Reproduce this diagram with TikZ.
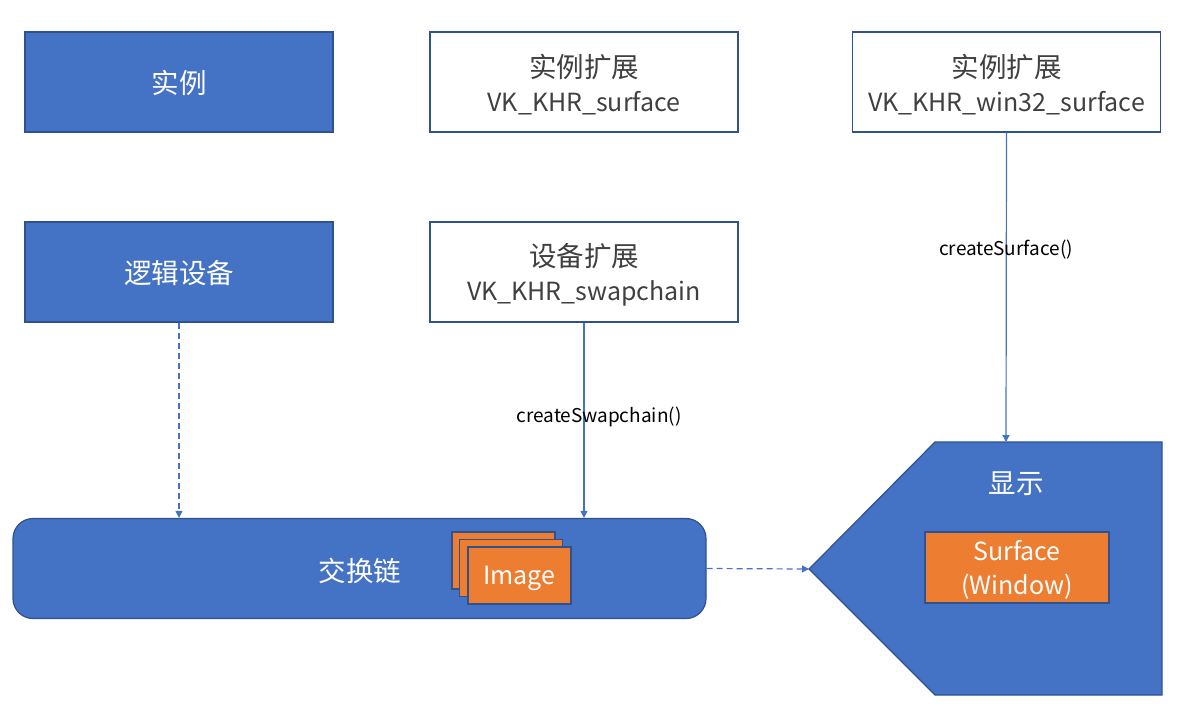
\documentclass[tikz,border=0pt]{standalone}
\usepackage{fontspec}
\setmainfont{Noto Sans CJK SC}
\usetikzlibrary{arrows.meta}
\definecolor{blueF}{HTML}{4472C4}
\definecolor{blueD}{HTML}{2F528F}
\definecolor{orangeF}{HTML}{ED7D31}
\definecolor{txtG}{HTML}{404040}
\newcommand\cjkbig[1]{{\fontsize{27.5}{34}\selectfont #1}}
\begin{document}
\begin{tikzpicture}[x=1pt,y=-1pt,
  bigfont/.style={font=\fontsize{25}{34}\selectfont},
  bluebox/.style={draw=blueD, line width=1.2pt, fill=blueF, minimum width=308pt, minimum height=100pt, inner sep=0pt},
  whitebox/.style={draw=blueD, line width=1.2pt, fill=white, minimum width=308pt, minimum height=100pt, inner sep=0pt},
  wtext/.style={bigfont, text=white, align=center, inner sep=0pt},
  gtext/.style={bigfont, text=txtG, align=center, inner sep=0pt},
  orangebox/.style={draw=blueD, line width=1.2pt, fill=orangeF, inner sep=0pt},
  conn/.style={draw=blueF, line width=1.2pt, -{Triangle[width=7pt,length=7pt]}},
  dashconn/.style={conn, dash pattern=on 6pt off 4pt},
  lbl/.style={font=\fontsize{19}{22}\selectfont, text=black, inner sep=0pt}
]
\useasboundingbox (0,0) rectangle (1189,726);
\fill[white] (0,0) rectangle (1189,726);

% top row
\node[bluebox] (inst) at (179,82) {};
\node[wtext] (inst-t) at (179,83) {\cjkbig{实例}};
\node[whitebox] (instext) at (584,82) {};
\node[gtext] (instext-t) at (584,85) {\cjkbig{实例扩展}\\VK\_KHR\_surface};
\node[whitebox] (winext) at (1006.5,82) {};
\node[gtext] (winext-t) at (1006.5,85) {\cjkbig{实例扩展}\\VK\_KHR\_win32\_surface};

% second row
\node[bluebox] (dev) at (179,272) {};
\node[wtext] (dev-t) at (179,273) {\cjkbig{逻辑设备}};
\node[whitebox] (devext) at (584,272) {};
\node[gtext] (devext-t) at (584,275) {\cjkbig{设备扩展}\\VK\_KHR\_swapchain};

% swapchain
\node[draw=blueD, line width=1.2pt, fill=blueF, rounded corners=20pt, minimum width=693pt, minimum height=100pt, inner sep=0pt] (swap) at (359.5,568.5) {};
\node[wtext] (swaplbl) at (360,571) {\cjkbig{交换链}};
\node[orangebox, minimum width=103pt, minimum height=57pt] (img3) at (503.5,560.5) {};
\node[orangebox, minimum width=103pt, minimum height=57pt] (img2) at (511,568) {};
\node[orangebox, minimum width=103pt, minimum height=57pt] (img1) at (519.5,575.5) {};
\node[wtext] (img1-t) at (519.5,578) {Image};

% display pentagon
\draw[draw=blueD, line width=1.2pt, fill=blueF] (935,442) -- (1162,442) -- (1162,695) -- (935,695) -- (809,569) -- cycle;
\coordinate (disptop) at (1006,442);
\coordinate (disptip) at (809,569);
\node[wtext] (displbl) at (1016,484) {\cjkbig{显示}};
\node[orangebox, minimum width=184pt, minimum height=71pt] (surf) at (1017,567.5) {};
\node[wtext] (surf-t) at (1017,570) {Surface\\(Window)};

% connectors
\draw[dashconn] (dev.south) -- (dev.south |- swap.north);
\draw[conn] (devext.south) -- (devext.south |- swap.north);
\node[lbl] (lswap) at (599,417) {createSwapchain()};
\draw[conn] (winext.south) -- (disptop);
\node[lbl] (lsurf) at (1006,250) {createSurface()};
\draw[dashconn] (swap.east) -- (disptip);
\end{tikzpicture}
\end{document}
